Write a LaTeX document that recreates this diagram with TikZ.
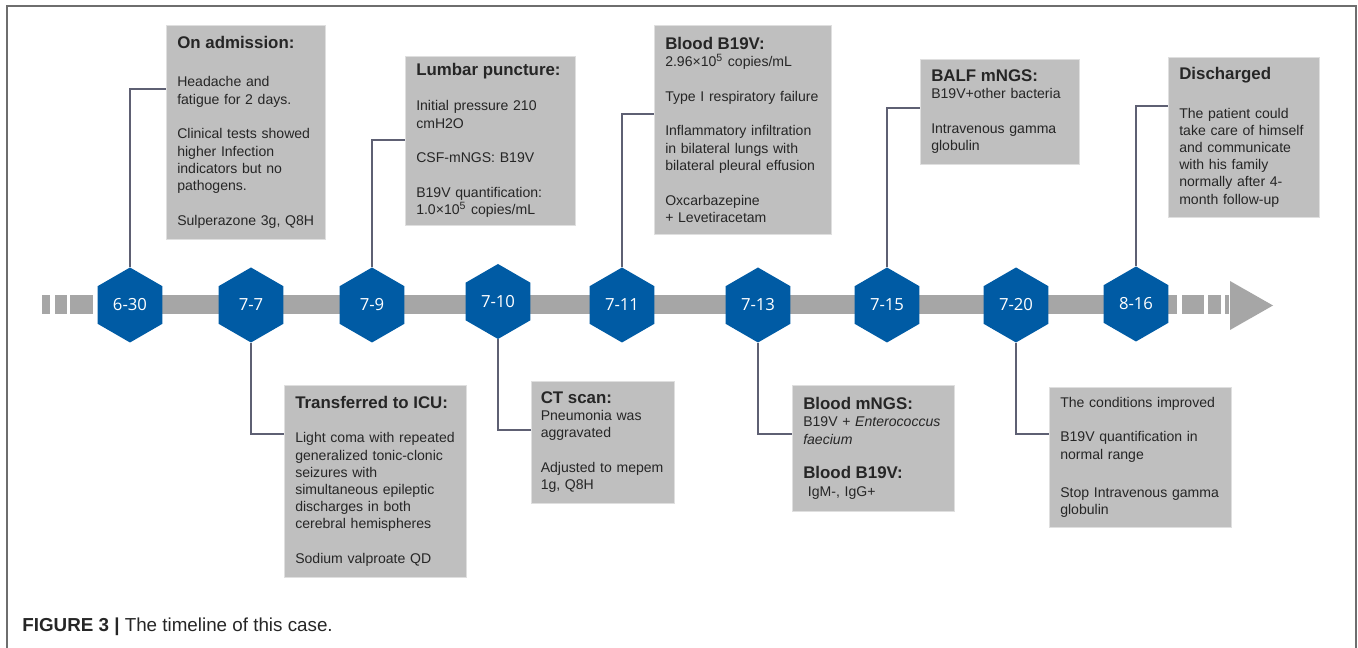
\documentclass[tikz,border=0pt]{standalone}
\usepackage{fontspec}
\setmainfont{Liberation Sans}
\newfontfamily\datefont{Open Sans}
\usetikzlibrary{shapes.geometric,calc}
\definecolor{hexblue}{HTML}{005BA4}
\definecolor{bargray}{HTML}{A6A6A6}
\definecolor{boxgray}{HTML}{BFBFBF}
\definecolor{inkgray}{HTML}{262626}
\definecolor{linkgray}{HTML}{5E6073}
\definecolor{framegray}{HTML}{6E6E6E}
\tikzset{
  datehex/.style={shape=regular polygon, regular polygon sides=6, shape border rotate=30, fill=hexblue, minimum size=15mm, inner sep=0pt, text=white, font=\datefont\fontsize{9.5}{11}\selectfont},
  eventbox/.style={fill=boxgray, draw=gray!25, line width=0.3pt, anchor=north west, align=left, inner xsep=2.2mm, inner ysep=0pt, text=inkgray, font=\fontsize{8}{9.8}\selectfont},
  link/.style={draw=linkgray, line width=0.6pt},
  barpart/.style={fill=bargray}
}
\newcommand{\boxhead}[1]{{\fontsize{9.6}{11}\selectfont\bfseries #1}}

\begin{document}
\begin{tikzpicture}[x=0.2mm, y=-0.2mm]
  \useasboundingbox (0,0) rectangle (1358,648);
  \draw[framegray, line width=1.1pt] (7,648) -- (7,6) -- (1356,6) -- (1356,648);

  % time bar
  \fill[barpart] (42,295) rectangle (50,314);
  \fill[barpart] (55,295) rectangle (67,314);
  \fill[barpart] (70,295) rectangle (93,314);
  \fill[barpart] (130,295) rectangle (1177,314);
  \fill[barpart] (1182,295) rectangle (1204,314);
  \fill[barpart] (1208,295) rectangle (1221,314);
  \fill[barpart] (1225,295) rectangle (1229,314);
  \fill[barpart] (1230,281) -- (1273,305.5) -- (1230,330) -- cycle;

  % dates
  \node[datehex] (d630) at (130,305) {6-30};
  \node[datehex] (d77) at (251,305) {7-7};
  \node[datehex] (d79) at (372,305) {7-9};
  \node[datehex] (d710) at (498,301.5) {7-10};
  \node[datehex] (d711) at (622,305) {7-11};
  \node[datehex] (d713) at (758,305) {7-13};
  \node[datehex] (d715) at (887,305) {7-15};
  \node[datehex] (d720) at (1016,305) {7-20};
  \node[datehex] (d816) at (1136,304) {8-16};

  % events above the bar
  \node[eventbox, text width=27.4mm, minimum height=42.8mm] (admit) at (166,25) {%
    \boxhead{On admission:}\\[12pt]
    Headache and\\
    fatigue for 2 days.\\[10pt]
    Clinical tests showed\\
    higher Infection\\
    indicators but no\\
    pathogens.\\[10pt]
    Sulperazone 3g, Q8H};
  \node[eventbox, text width=29.6mm, minimum height=33.8mm] (lumbar) at (405,56) {%
    \boxhead{Lumbar puncture:}\\[10pt]
    Initial pressure 210\\
    cmH2O\\[10pt]
    CSF-mNGS: B19V\\[10pt]
    B19V quantification:\\
    1.0×10\textsuperscript{5} copies/mL};
  \node[eventbox, text width=31mm, minimum height=41.8mm] (bloodtop) at (654,25) {%
    \boxhead{Blood B19V:}\\
    2.96×10\textsuperscript{5} copies/mL\\[10pt]
    Type I respiratory failure\\[10pt]
    Inflammatory infiltration\\
    in bilateral lungs with\\
    bilateral pleural effusion\\[10pt]
    Oxcarbazepine\\
    + Levetiracetam};
  \node[eventbox, text width=27.4mm, minimum height=21mm] (balf) at (920,59) {%
    \boxhead{BALF mNGS:}\\
    B19V+other bacteria\\[10pt]
    Intravenous gamma\\
    globulin};
  \node[eventbox, text width=25.8mm, minimum height=32mm] (disch) at (1168,57) {%
    \boxhead{Discharged}\\[12pt]
    The patient could\\
    take care of himself\\
    and communicate\\
    with his family\\
    normally after 4-\\
    month follow-up};

  % events below the bar
  \node[eventbox, text width=32mm, minimum height=38.4mm] (icu) at (284,385) {%
    \boxhead{Transferred to ICU:}\\[10pt]
    Light coma with repeated\\
    generalized tonic-clonic\\
    seizures with\\
    simultaneous epileptic\\
    discharges in both\\
    cerebral hemispheres\\[10pt]
    Sodium valproate QD};
  \node[eventbox, inner xsep=1.9mm, text width=24.8mm, minimum height=24.4mm] (ctscan) at (531,381) {%
    \boxhead{CT scan:}\\
    Pneumonia was\\
    aggravated\\[10pt]
    Adjusted to mepem\\
    1g, Q8H};
  \node[eventbox, text width=28mm, minimum height=25.2mm] (mngs) at (792,385) {%
    \boxhead{Blood mNGS:}\\
    B19V + \textit{Enterococcus}\\
    \textit{faecium}\\[10pt]
    \boxhead{Blood B19V:}\\
    \ IgM-, IgG+};
  \node[eventbox, text width=32mm, minimum height=28mm] (improved) at (1049,387) {%
    The conditions improved\\[10pt]
    B19V quantification in\\
    normal range\\[12pt]
    Stop Intravenous gamma\\
    globulin};

  % connectors
  \draw[link] (d630.north) |- ($(admit.north west)+(0,64)$);
  \draw[link] (d79.north) |- ($(lumbar.north west)+(0,84)$);
  \draw[link] (d711.north) |- ($(bloodtop.north west)+(0,89)$);
  \draw[link] (d715.north) |- ($(balf.north west)+(0,49)$);
  \draw[link] (d816.north) |- ($(disch.north west)+(0,49)$);
  \draw[link] (d77.south) |- ($(icu.north west)+(0,49)$);
  \draw[link] (d710.south) |- ($(ctscan.north west)+(0,49)$);
  \draw[link] (d713.south) |- ($(mngs.north west)+(0,49)$);
  \draw[link] (d720.south) |- ($(improved.north west)+(0,47)$);

  \node[anchor=base west, inner sep=0pt, text=inkgray, font=\fontsize{10.7}{12}\selectfont] (caption) at (22,632) {\textbf{FIGURE 3 |} The timeline of this case.};
\end{tikzpicture}
\end{document}
